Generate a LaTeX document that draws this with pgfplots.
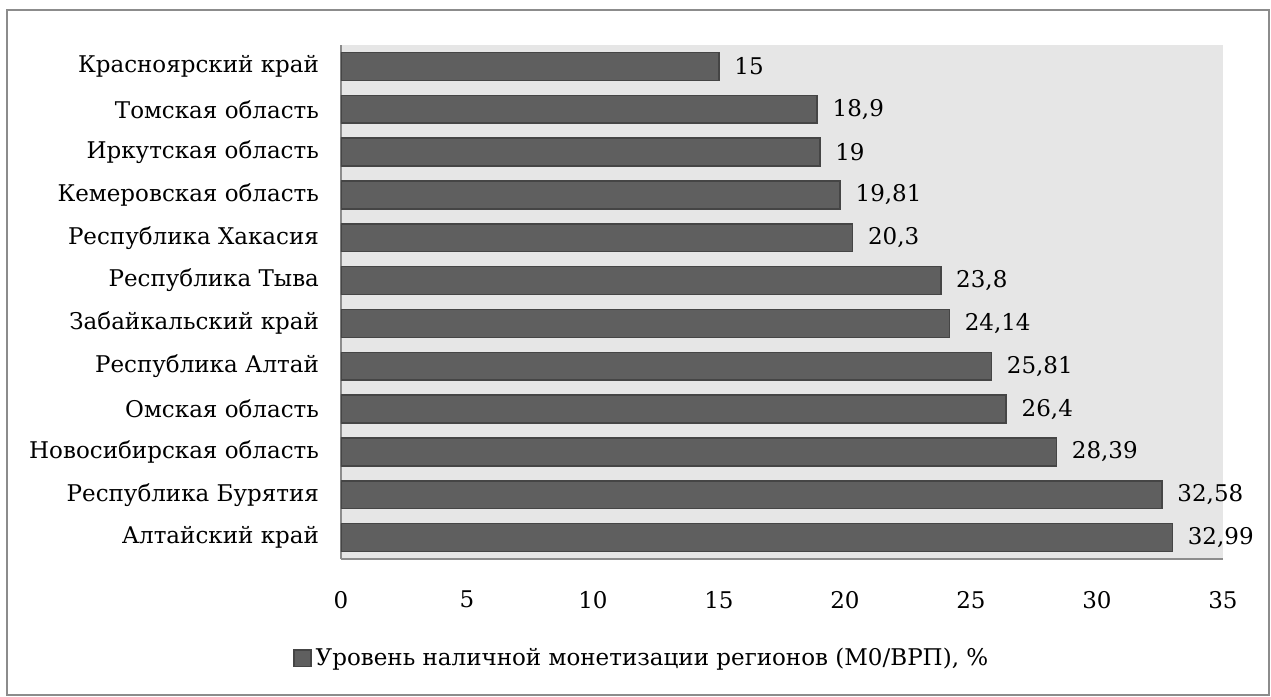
\documentclass[border=0pt]{standalone}
\usepackage{pgfplots}
\pgfplotsset{compat=1.18}
\usepackage{fontspec}
\setmainfont{DejaVu Serif}
\definecolor{barfill}{HTML}{5F5F5F}
\definecolor{barline}{HTML}{454545}
\definecolor{plotbg}{HTML}{E6E6E6}
\definecolor{frame}{HTML}{8C8C8C}

\begin{document}
\begin{tikzpicture}
\useasboundingbox (-170.5pt,-69pt) rectangle (465pt,279.5pt);
\draw[frame, line width=1pt] (-167pt,-68pt) rectangle (464pt,274.5pt);
\begin{axis}[
    at={(0,0)}, anchor=south west,
    scale only axis,
    width=441pt, height=257pt,
    xbar,
    bar width=0.65,
    xmin=0, xmax=35,
    ymin=-0.5, ymax=11.5,
    xtick={0,5,...,35},
    ytick={0,...,11},
    yticklabels={Алтайский край, Республика Бурятия, Новосибирская область, Омская область, Республика Алтай, Забайкальский край, Республика Тыва, Республика Хакасия, Кемеровская область, Иркутская область, Томская область, Красноярский край},
    major tick length=0pt,
    axis lines*=left,
    axis line style={frame, line width=1pt},
    axis background/.style={fill=plotbg},
    tick label style={font=\fontsize{11.5}{13}\selectfont},
    xticklabel style={yshift=-12.5pt},
    yticklabel style={xshift=-7.5pt},
    /pgf/number format/assume math mode=true,
    /pgf/number format/use comma,
    nodes near coords,
    every node near coord/.append style={font=\fontsize{11.5}{13}\selectfont, xshift=4pt},
    legend style={at={(0.342,-0.193)}, anchor=center, draw=none, fill=none,
        font=\fontsize{11.5}{13}\selectfont},
    legend image code/.code={\draw[fill=barfill, draw=barline] (0pt,-4.2pt) rectangle (8.5pt,4.2pt);},
]
\addplot[fill=barfill, draw=barline, line width=0.8pt] coordinates {
    (32.99,0) (32.58,1) (28.39,2) (26.4,3) (25.81,4) (24.14,5)
    (23.8,6) (20.3,7) (19.81,8) (19,9) (18.9,10) (15,11)
};
\addlegendentry{Уровень наличной монетизации регионов (М0/ВРП), \%}
\end{axis}
\end{tikzpicture}
\end{document}
